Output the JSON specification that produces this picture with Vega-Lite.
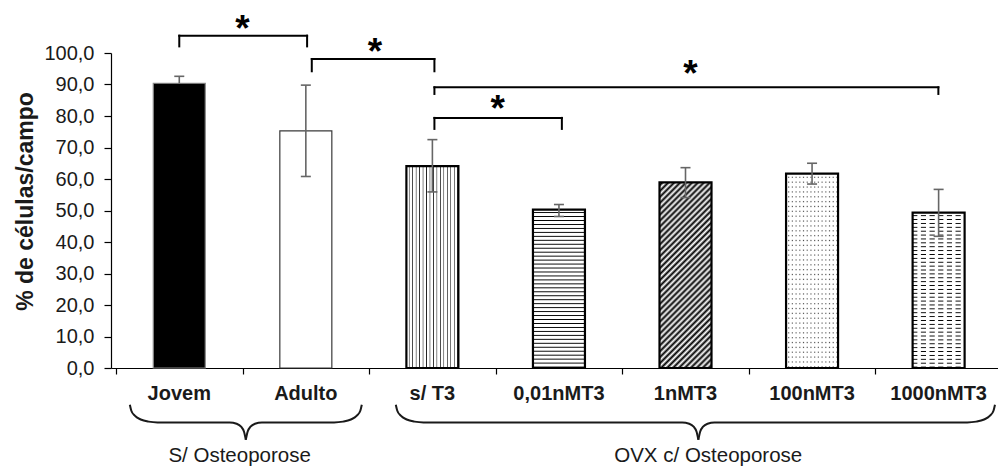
{
  "$schema": "https://vega.github.io/schema/vega-lite/v6.json",
  "width": 887,
  "height": 315,
  "autosize": {"type": "none"},
  "padding": {"left": 111, "top": 53, "right": 0, "bottom": 98},
  "background": "white",
  "config": {"view": {"stroke": null}, "font": "Liberation Sans", "axis": {"grid": false, "labelOverlap": false, "labelBound": false}},
  "resolve": {"axis": {"x": "independent", "y": "independent"}},
  "datasets": {
    "bars": [
      {"i": 1, "cat": "Jovem", "v": 90.4, "lo": 90.4, "hi": 92.6},
      {"i": 2, "cat": "Adulto", "v": 75.3, "lo": 60.8, "hi": 89.8},
      {"i": 3, "cat": "s/ T3", "v": 64.1, "lo": 55.9, "hi": 72.5},
      {"i": 4, "cat": "0,01nMT3", "v": 50.3, "lo": 48.1, "hi": 51.9},
      {"i": 5, "cat": "1nMT3", "v": 58.9, "lo": 54.1, "hi": 63.6},
      {"i": 6, "cat": "100nMT3", "v": 61.7, "lo": 58.4, "hi": 65.0},
      {"i": 7, "cat": "1000nMT3", "v": 49.3, "lo": 41.8, "hi": 56.7}
    ],
    "brackets": [
      {"a": 1.0, "b": 2.01, "top": 105.5, "bot": 102.1},
      {"a": 2.047, "b": 3.016, "top": 98.1, "bot": 94.2},
      {"a": 3.016, "b": 6.998, "top": 89.1, "bot": 87.0},
      {"a": 3.016, "b": 4.023, "top": 79.4, "bot": 75.9}
    ],
    "stars": [
      {"s": "*", "x": 1.5, "y": 110.0},
      {"s": "*", "x": 2.547, "y": 102.6},
      {"s": "*", "x": 5.039, "y": 95.7},
      {"s": "*", "x": 3.516, "y": 84.6}
    ],
    "groups": [
      {"g": "S/ Osteoporose", "x": 1.4766, "y": -29.84},
      {"g": "OVX c/ Osteoporose", "x": 5.1797, "y": -29.84}
    ],
    "braces": [
      {"seg": "A1", "k": 0, "x": 0.6094, "y": -11.65},
      {"seg": "A1", "k": 1, "x": 0.6211, "y": -13.56},
      {"seg": "A1", "k": 2, "x": 0.6484, "y": -15.14},
      {"seg": "A1", "k": 3, "x": 0.6953, "y": -16.35},
      {"seg": "A1", "k": 4, "x": 0.7578, "y": -17.02},
      {"seg": "A1", "k": 5, "x": 0.8281, "y": -17.27},
      {"seg": "A1", "k": 6, "x": 1.3984, "y": -17.27},
      {"seg": "A1", "k": 7, "x": 1.4531, "y": -17.68},
      {"seg": "A1", "k": 8, "x": 1.4883, "y": -18.63},
      {"seg": "A1", "k": 9, "x": 1.5117, "y": -20.22},
      {"seg": "A1", "k": 10, "x": 1.5258, "y": -22.76},
      {"seg": "A2", "k": 0, "x": 1.5258, "y": -22.76},
      {"seg": "A2", "k": 1, "x": 1.5398, "y": -20.22},
      {"seg": "A2", "k": 2, "x": 1.5633, "y": -18.63},
      {"seg": "A2", "k": 3, "x": 1.5984, "y": -17.68},
      {"seg": "A2", "k": 4, "x": 1.6531, "y": -17.27},
      {"seg": "A2", "k": 5, "x": 2.2234, "y": -17.27},
      {"seg": "A2", "k": 6, "x": 2.2938, "y": -17.02},
      {"seg": "A2", "k": 7, "x": 2.3563, "y": -16.35},
      {"seg": "A2", "k": 8, "x": 2.4031, "y": -15.14},
      {"seg": "A2", "k": 9, "x": 2.4305, "y": -13.56},
      {"seg": "A2", "k": 10, "x": 2.4422, "y": -11.65},
      {"seg": "B1", "k": 0, "x": 2.7109, "y": -11.65},
      {"seg": "B1", "k": 1, "x": 2.7227, "y": -13.56},
      {"seg": "B1", "k": 2, "x": 2.75, "y": -15.14},
      {"seg": "B1", "k": 3, "x": 2.7969, "y": -16.35},
      {"seg": "B1", "k": 4, "x": 2.8594, "y": -17.02},
      {"seg": "B1", "k": 5, "x": 2.9297, "y": -17.27},
      {"seg": "B1", "k": 6, "x": 4.9742, "y": -17.27},
      {"seg": "B1", "k": 7, "x": 5.0289, "y": -17.68},
      {"seg": "B1", "k": 8, "x": 5.0641, "y": -18.63},
      {"seg": "B1", "k": 9, "x": 5.0875, "y": -20.22},
      {"seg": "B1", "k": 10, "x": 5.1016, "y": -22.76},
      {"seg": "B2", "k": 0, "x": 5.1016, "y": -22.76},
      {"seg": "B2", "k": 1, "x": 5.1156, "y": -20.22},
      {"seg": "B2", "k": 2, "x": 5.1391, "y": -18.63},
      {"seg": "B2", "k": 3, "x": 5.1742, "y": -17.68},
      {"seg": "B2", "k": 4, "x": 5.2289, "y": -17.27},
      {"seg": "B2", "k": 5, "x": 7.2266, "y": -17.27},
      {"seg": "B2", "k": 6, "x": 7.2969, "y": -17.02},
      {"seg": "B2", "k": 7, "x": 7.3594, "y": -16.35},
      {"seg": "B2", "k": 8, "x": 7.4063, "y": -15.14},
      {"seg": "B2", "k": 9, "x": 7.4336, "y": -13.56},
      {"seg": "B2", "k": 10, "x": 7.4453, "y": -11.65}
    ]
  },
  "layer": [
    {
      "data": {"name": "bars"},
      "transform": [{"filter": "datum.i === 1"}],
      "mark": {"type": "bar", "orient": "vertical", "width": 52, "fill": "#000"},
      "encoding": {
        "x": {"field": "i", "type": "quantitative", "scale": {"domain": [0.5, 7.4297], "nice": false, "zero": false},
          "axis": {"values": [0.5, 1.5, 2.5, 3.5, 4.5, 5.5, 6.5], "labels": false, "ticks": true, "tickSize": 6, "tickColor": "#000", "tickWidth": 1.2, "domainColor": "#000", "domainWidth": 1.2, "grid": false, "title": null}},
        "y": {"field": "v", "type": "quantitative", "scale": {"domain": [0, 100], "nice": false, "zero": false},
          "axis": {"values": [0, 10, 20, 30, 40, 50, 60, 70, 80, 90, 100], "labelExpr": "replace(format(datum.value, '.1f'), '.', ',')", "labelFontSize": 20, "labelColor": "#1a1a1a", "labelPadding": 10, "labelOverlap": false, "tickSize": 7, "tickColor": "#000", "tickWidth": 1.2, "domainColor": "#000", "domainWidth": 1.2, "grid": false,
            "title": "% de células/campo", "titleFontSize": 23, "titleFontWeight": "bold", "titleColor": "#1a1a1a", "titleAngle": 270, "titleX": -86, "titleY": 148, "titleAlign": "center", "titleBaseline": "middle"}}
      }
    },
    {
      "data": {"name": "bars"},
      "transform": [{"filter": "datum.i === 2"}],
      "mark": {"type": "bar", "orient": "vertical", "width": 52, "fill": "#fff"},
      "encoding": {
        "x": {"field": "i", "type": "quantitative", "scale": {"domain": [0.5, 7.4297], "nice": false, "zero": false}, "axis": null},
        "y": {"field": "v", "type": "quantitative", "scale": {"domain": [0, 100], "nice": false, "zero": false}, "axis": null}
      }
    },
    {
      "data": {"name": "bars"},
      "transform": [{"filter": "datum.i === 3"}],
      "mark": {"type": "bar", "orient": "vertical", "width": 52, "fill": {"gradient": "linear", "x1": 0, "y1": 0, "x2": 1, "y2": 0, "stops": [
        {"offset": 0, "color": "#fff"}, {"offset": 0.04, "color": "#fff"}, {"offset": 0.0533, "color": "#222"},
        {"offset": 0.0667, "color": "#fff"}, {"offset": 0.1067, "color": "#fff"}, {"offset": 0.12, "color": "#222"},
        {"offset": 0.1333, "color": "#fff"}, {"offset": 0.1733, "color": "#fff"}, {"offset": 0.1867, "color": "#222"},
        {"offset": 0.2, "color": "#fff"}, {"offset": 0.24, "color": "#fff"}, {"offset": 0.2533, "color": "#222"},
        {"offset": 0.2667, "color": "#fff"}, {"offset": 0.3067, "color": "#fff"}, {"offset": 0.32, "color": "#222"},
        {"offset": 0.3333, "color": "#fff"}, {"offset": 0.3733, "color": "#fff"}, {"offset": 0.3867, "color": "#222"},
        {"offset": 0.4, "color": "#fff"}, {"offset": 0.44, "color": "#fff"}, {"offset": 0.4533, "color": "#222"},
        {"offset": 0.4667, "color": "#fff"}, {"offset": 0.5067, "color": "#fff"}, {"offset": 0.52, "color": "#222"},
        {"offset": 0.5333, "color": "#fff"}, {"offset": 0.5733, "color": "#fff"}, {"offset": 0.5867, "color": "#222"},
        {"offset": 0.6, "color": "#fff"}, {"offset": 0.64, "color": "#fff"}, {"offset": 0.6533, "color": "#222"},
        {"offset": 0.6667, "color": "#fff"}, {"offset": 0.7067, "color": "#fff"}, {"offset": 0.72, "color": "#222"},
        {"offset": 0.7333, "color": "#fff"}, {"offset": 0.7733, "color": "#fff"}, {"offset": 0.7867, "color": "#222"},
        {"offset": 0.8, "color": "#fff"}, {"offset": 0.84, "color": "#fff"}, {"offset": 0.8533, "color": "#222"},
        {"offset": 0.8667, "color": "#fff"}, {"offset": 0.9067, "color": "#fff"}, {"offset": 0.92, "color": "#222"},
        {"offset": 0.9333, "color": "#fff"}, {"offset": 0.9733, "color": "#fff"}, {"offset": 0.9867, "color": "#222"},
        {"offset": 1, "color": "#fff"}
      ]}},
      "encoding": {
        "x": {"field": "i", "type": "quantitative", "scale": {"domain": [0.5, 7.4297], "nice": false, "zero": false}, "axis": null},
        "y": {"field": "v", "type": "quantitative", "scale": {"domain": [0, 100], "nice": false, "zero": false}, "axis": null}
      }
    },
    {
      "data": {"name": "bars"},
      "transform": [{"filter": "datum.i === 4 || datum.i === 6 || datum.i === 7"}],
      "mark": {"type": "bar", "orient": "vertical", "width": 52, "fill": {"gradient": "linear", "x1": 0, "y1": 0, "x2": 0, "y2": 1, "stops": [
        {"offset": 0, "color": "#fff"}, {"offset": 0.013, "color": "#fff"}, {"offset": 0.019, "color": "#000"},
        {"offset": 0.025, "color": "#fff"}, {"offset": 0.038, "color": "#fff"}, {"offset": 0.044, "color": "#000"},
        {"offset": 0.05, "color": "#fff"}, {"offset": 0.063, "color": "#fff"}, {"offset": 0.069, "color": "#000"},
        {"offset": 0.075, "color": "#fff"}, {"offset": 0.088, "color": "#fff"}, {"offset": 0.094, "color": "#000"},
        {"offset": 0.1, "color": "#fff"}, {"offset": 0.113, "color": "#fff"}, {"offset": 0.119, "color": "#000"},
        {"offset": 0.125, "color": "#fff"}, {"offset": 0.138, "color": "#fff"}, {"offset": 0.144, "color": "#000"},
        {"offset": 0.15, "color": "#fff"}, {"offset": 0.163, "color": "#fff"}, {"offset": 0.169, "color": "#000"},
        {"offset": 0.175, "color": "#fff"}, {"offset": 0.188, "color": "#fff"}, {"offset": 0.194, "color": "#000"},
        {"offset": 0.2, "color": "#fff"}, {"offset": 0.213, "color": "#fff"}, {"offset": 0.219, "color": "#000"},
        {"offset": 0.225, "color": "#fff"}, {"offset": 0.238, "color": "#fff"}, {"offset": 0.244, "color": "#000"},
        {"offset": 0.25, "color": "#fff"}, {"offset": 0.263, "color": "#fff"}, {"offset": 0.269, "color": "#000"},
        {"offset": 0.275, "color": "#fff"}, {"offset": 0.288, "color": "#fff"}, {"offset": 0.294, "color": "#000"},
        {"offset": 0.3, "color": "#fff"}, {"offset": 0.313, "color": "#fff"}, {"offset": 0.319, "color": "#000"},
        {"offset": 0.325, "color": "#fff"}, {"offset": 0.338, "color": "#fff"}, {"offset": 0.344, "color": "#000"},
        {"offset": 0.35, "color": "#fff"}, {"offset": 0.363, "color": "#fff"}, {"offset": 0.369, "color": "#000"},
        {"offset": 0.375, "color": "#fff"}, {"offset": 0.388, "color": "#fff"}, {"offset": 0.394, "color": "#000"},
        {"offset": 0.4, "color": "#fff"}, {"offset": 0.413, "color": "#fff"}, {"offset": 0.419, "color": "#000"},
        {"offset": 0.425, "color": "#fff"}, {"offset": 0.438, "color": "#fff"}, {"offset": 0.444, "color": "#000"},
        {"offset": 0.45, "color": "#fff"}, {"offset": 0.463, "color": "#fff"}, {"offset": 0.469, "color": "#000"},
        {"offset": 0.475, "color": "#fff"}, {"offset": 0.488, "color": "#fff"}, {"offset": 0.494, "color": "#000"},
        {"offset": 0.5, "color": "#fff"}, {"offset": 0.513, "color": "#fff"}, {"offset": 0.519, "color": "#000"},
        {"offset": 0.525, "color": "#fff"}, {"offset": 0.538, "color": "#fff"}, {"offset": 0.544, "color": "#000"},
        {"offset": 0.55, "color": "#fff"}, {"offset": 0.563, "color": "#fff"}, {"offset": 0.569, "color": "#000"},
        {"offset": 0.575, "color": "#fff"}, {"offset": 0.588, "color": "#fff"}, {"offset": 0.594, "color": "#000"},
        {"offset": 0.6, "color": "#fff"}, {"offset": 0.613, "color": "#fff"}, {"offset": 0.619, "color": "#000"},
        {"offset": 0.625, "color": "#fff"}, {"offset": 0.638, "color": "#fff"}, {"offset": 0.644, "color": "#000"},
        {"offset": 0.65, "color": "#fff"}, {"offset": 0.663, "color": "#fff"}, {"offset": 0.669, "color": "#000"},
        {"offset": 0.675, "color": "#fff"}, {"offset": 0.688, "color": "#fff"}, {"offset": 0.694, "color": "#000"},
        {"offset": 0.7, "color": "#fff"}, {"offset": 0.713, "color": "#fff"}, {"offset": 0.719, "color": "#000"},
        {"offset": 0.725, "color": "#fff"}, {"offset": 0.738, "color": "#fff"}, {"offset": 0.744, "color": "#000"},
        {"offset": 0.75, "color": "#fff"}, {"offset": 0.763, "color": "#fff"}, {"offset": 0.769, "color": "#000"},
        {"offset": 0.775, "color": "#fff"}, {"offset": 0.788, "color": "#fff"}, {"offset": 0.794, "color": "#000"},
        {"offset": 0.8, "color": "#fff"}, {"offset": 0.813, "color": "#fff"}, {"offset": 0.819, "color": "#000"},
        {"offset": 0.825, "color": "#fff"}, {"offset": 0.838, "color": "#fff"}, {"offset": 0.844, "color": "#000"},
        {"offset": 0.85, "color": "#fff"}, {"offset": 0.863, "color": "#fff"}, {"offset": 0.869, "color": "#000"},
        {"offset": 0.875, "color": "#fff"}, {"offset": 0.888, "color": "#fff"}, {"offset": 0.894, "color": "#000"},
        {"offset": 0.9, "color": "#fff"}, {"offset": 0.913, "color": "#fff"}, {"offset": 0.919, "color": "#000"},
        {"offset": 0.925, "color": "#fff"}, {"offset": 0.938, "color": "#fff"}, {"offset": 0.944, "color": "#000"},
        {"offset": 0.95, "color": "#fff"}, {"offset": 0.963, "color": "#fff"}, {"offset": 0.969, "color": "#000"},
        {"offset": 0.975, "color": "#fff"}, {"offset": 0.988, "color": "#fff"}, {"offset": 0.994, "color": "#000"},
        {"offset": 1, "color": "#fff"}
      ]}},
      "encoding": {
        "x": {"field": "i", "type": "quantitative", "scale": {"domain": [0.5, 7.4297], "nice": false, "zero": false}, "axis": null},
        "y": {"field": "v", "type": "quantitative", "scale": {"domain": [0, 100], "nice": false, "zero": false}, "axis": null},
        "fillOpacity": {"condition": {"test": "datum.i === 6", "value": 0.7}, "value": 1}
      }
    },
    {
      "data": {"name": "bars"},
      "transform": [{"filter": "datum.i === 5"}],
      "mark": {"type": "bar", "orient": "vertical", "width": 52, "fill": {"gradient": "linear", "x1": 0, "y1": 0, "x2": 0.3327, "y2": 1.187, "stops": [
        {"offset": 0, "color": "#fff"}, {"offset": 0.0125, "color": "#000"}, {"offset": 0.025, "color": "#fff"}, {"offset": 0.0375, "color": "#000"},
        {"offset": 0.05, "color": "#fff"}, {"offset": 0.0625, "color": "#000"}, {"offset": 0.075, "color": "#fff"}, {"offset": 0.0875, "color": "#000"},
        {"offset": 0.1, "color": "#fff"}, {"offset": 0.1125, "color": "#000"}, {"offset": 0.125, "color": "#fff"}, {"offset": 0.1375, "color": "#000"},
        {"offset": 0.15, "color": "#fff"}, {"offset": 0.1625, "color": "#000"}, {"offset": 0.175, "color": "#fff"}, {"offset": 0.1875, "color": "#000"},
        {"offset": 0.2, "color": "#fff"}, {"offset": 0.2125, "color": "#000"}, {"offset": 0.225, "color": "#fff"}, {"offset": 0.2375, "color": "#000"},
        {"offset": 0.25, "color": "#fff"}, {"offset": 0.2625, "color": "#000"}, {"offset": 0.275, "color": "#fff"}, {"offset": 0.2875, "color": "#000"},
        {"offset": 0.3, "color": "#fff"}, {"offset": 0.3125, "color": "#000"}, {"offset": 0.325, "color": "#fff"}, {"offset": 0.3375, "color": "#000"},
        {"offset": 0.35, "color": "#fff"}, {"offset": 0.3625, "color": "#000"}, {"offset": 0.375, "color": "#fff"}, {"offset": 0.3875, "color": "#000"},
        {"offset": 0.4, "color": "#fff"}, {"offset": 0.4125, "color": "#000"}, {"offset": 0.425, "color": "#fff"}, {"offset": 0.4375, "color": "#000"},
        {"offset": 0.45, "color": "#fff"}, {"offset": 0.4625, "color": "#000"}, {"offset": 0.475, "color": "#fff"}, {"offset": 0.4875, "color": "#000"},
        {"offset": 0.5, "color": "#fff"}, {"offset": 0.5125, "color": "#000"}, {"offset": 0.525, "color": "#fff"}, {"offset": 0.5375, "color": "#000"},
        {"offset": 0.55, "color": "#fff"}, {"offset": 0.5625, "color": "#000"}, {"offset": 0.575, "color": "#fff"}, {"offset": 0.5875, "color": "#000"},
        {"offset": 0.6, "color": "#fff"}, {"offset": 0.6125, "color": "#000"}, {"offset": 0.625, "color": "#fff"}, {"offset": 0.6375, "color": "#000"},
        {"offset": 0.65, "color": "#fff"}, {"offset": 0.6625, "color": "#000"}, {"offset": 0.675, "color": "#fff"}, {"offset": 0.6875, "color": "#000"},
        {"offset": 0.7, "color": "#fff"}, {"offset": 0.7125, "color": "#000"}, {"offset": 0.725, "color": "#fff"}, {"offset": 0.7375, "color": "#000"},
        {"offset": 0.75, "color": "#fff"}, {"offset": 0.7625, "color": "#000"}, {"offset": 0.775, "color": "#fff"}, {"offset": 0.7875, "color": "#000"},
        {"offset": 0.8, "color": "#fff"}, {"offset": 0.8125, "color": "#000"}, {"offset": 0.825, "color": "#fff"}, {"offset": 0.8375, "color": "#000"},
        {"offset": 0.85, "color": "#fff"}, {"offset": 0.8625, "color": "#000"}, {"offset": 0.875, "color": "#fff"}, {"offset": 0.8875, "color": "#000"},
        {"offset": 0.9, "color": "#fff"}, {"offset": 0.9125, "color": "#000"}, {"offset": 0.925, "color": "#fff"}, {"offset": 0.9375, "color": "#000"},
        {"offset": 0.95, "color": "#fff"}, {"offset": 0.9625, "color": "#000"}, {"offset": 0.975, "color": "#fff"}, {"offset": 0.9875, "color": "#000"},
        {"offset": 1, "color": "#fff"}
      ]}},
      "encoding": {
        "x": {"field": "i", "type": "quantitative", "scale": {"domain": [0.5, 7.4297], "nice": false, "zero": false}, "axis": null},
        "y": {"field": "v", "type": "quantitative", "scale": {"domain": [0, 100], "nice": false, "zero": false}, "axis": null}
      }
    },
    {
      "data": {"name": "bars"},
      "transform": [{"filter": "datum.i === 6"}],
      "mark": {"type": "bar", "orient": "vertical", "width": 52, "fill": {"gradient": "linear", "x1": 0, "y1": 0, "x2": 1, "y2": 0, "stops": [
        {"offset": 0, "color": "#fff"}, {"offset": 0.0286, "color": "#fff"}, {"offset": 0.05, "color": "rgba(255,255,255,0)"},
        {"offset": 0.0714, "color": "#fff"}, {"offset": 0.1, "color": "#fff"}, {"offset": 0.1214, "color": "rgba(255,255,255,0)"},
        {"offset": 0.1429, "color": "#fff"}, {"offset": 0.1714, "color": "#fff"}, {"offset": 0.1929, "color": "rgba(255,255,255,0)"},
        {"offset": 0.2143, "color": "#fff"}, {"offset": 0.2429, "color": "#fff"}, {"offset": 0.2643, "color": "rgba(255,255,255,0)"},
        {"offset": 0.2857, "color": "#fff"}, {"offset": 0.3143, "color": "#fff"}, {"offset": 0.3357, "color": "rgba(255,255,255,0)"},
        {"offset": 0.3571, "color": "#fff"}, {"offset": 0.3857, "color": "#fff"}, {"offset": 0.4071, "color": "rgba(255,255,255,0)"},
        {"offset": 0.4286, "color": "#fff"}, {"offset": 0.4571, "color": "#fff"}, {"offset": 0.4786, "color": "rgba(255,255,255,0)"},
        {"offset": 0.5, "color": "#fff"}, {"offset": 0.5286, "color": "#fff"}, {"offset": 0.55, "color": "rgba(255,255,255,0)"},
        {"offset": 0.5714, "color": "#fff"}, {"offset": 0.6, "color": "#fff"}, {"offset": 0.6214, "color": "rgba(255,255,255,0)"},
        {"offset": 0.6429, "color": "#fff"}, {"offset": 0.6714, "color": "#fff"}, {"offset": 0.6929, "color": "rgba(255,255,255,0)"},
        {"offset": 0.7143, "color": "#fff"}, {"offset": 0.7429, "color": "#fff"}, {"offset": 0.7643, "color": "rgba(255,255,255,0)"},
        {"offset": 0.7857, "color": "#fff"}, {"offset": 0.8143, "color": "#fff"}, {"offset": 0.8357, "color": "rgba(255,255,255,0)"},
        {"offset": 0.8571, "color": "#fff"}, {"offset": 0.8857, "color": "#fff"}, {"offset": 0.9071, "color": "rgba(255,255,255,0)"},
        {"offset": 0.9286, "color": "#fff"}, {"offset": 0.9571, "color": "#fff"}, {"offset": 0.9786, "color": "rgba(255,255,255,0)"},
        {"offset": 1, "color": "#fff"}
      ]}},
      "encoding": {
        "x": {"field": "i", "type": "quantitative", "scale": {"domain": [0.5, 7.4297], "nice": false, "zero": false}, "axis": null},
        "y": {"field": "v", "type": "quantitative", "scale": {"domain": [0, 100], "nice": false, "zero": false}, "axis": null}
      }
    },
    {
      "data": {"name": "bars"},
      "transform": [{"filter": "datum.i === 7"}],
      "mark": {"type": "bar", "orient": "vertical", "width": 52, "fill": {"gradient": "linear", "x1": 0, "y1": 0, "x2": 1, "y2": 0, "stops": [
        {"offset": 0, "color": "rgba(255,255,255,0)"}, {"offset": 0.0833, "color": "rgba(255,255,255,0)"}, {"offset": 0.1, "color": "#fff"}, {"offset": 0.15, "color": "#fff"},
        {"offset": 0.1667, "color": "rgba(255,255,255,0)"}, {"offset": 0.25, "color": "rgba(255,255,255,0)"}, {"offset": 0.2667, "color": "#fff"}, {"offset": 0.3167, "color": "#fff"},
        {"offset": 0.3333, "color": "rgba(255,255,255,0)"}, {"offset": 0.4167, "color": "rgba(255,255,255,0)"}, {"offset": 0.4333, "color": "#fff"}, {"offset": 0.4833, "color": "#fff"},
        {"offset": 0.5, "color": "rgba(255,255,255,0)"}, {"offset": 0.5833, "color": "rgba(255,255,255,0)"}, {"offset": 0.6, "color": "#fff"}, {"offset": 0.65, "color": "#fff"},
        {"offset": 0.6667, "color": "rgba(255,255,255,0)"}, {"offset": 0.75, "color": "rgba(255,255,255,0)"}, {"offset": 0.7667, "color": "#fff"}, {"offset": 0.8167, "color": "#fff"},
        {"offset": 0.8333, "color": "rgba(255,255,255,0)"}, {"offset": 0.9167, "color": "rgba(255,255,255,0)"}, {"offset": 0.9333, "color": "#fff"}, {"offset": 0.9833, "color": "#fff"},
        {"offset": 1, "color": "rgba(255,255,255,0)"}
      ]}},
      "encoding": {
        "x": {"field": "i", "type": "quantitative", "scale": {"domain": [0.5, 7.4297], "nice": false, "zero": false}, "axis": null},
        "y": {"field": "v", "type": "quantitative", "scale": {"domain": [0, 100], "nice": false, "zero": false}, "axis": null}
      }
    },
    {
      "data": {"name": "bars"},
      "mark": {"type": "bar", "orient": "vertical", "width": 52, "fill": "#fff", "fillOpacity": 0},
      "encoding": {
        "x": {"field": "i", "type": "quantitative", "scale": {"domain": [0.5, 7.4297], "nice": false, "zero": false}, "axis": null},
        "y": {"field": "v", "type": "quantitative", "scale": {"domain": [0, 100], "nice": false, "zero": false}, "axis": null},
        "stroke": {"condition": [{"test": "datum.i === 1", "value": "#8a8a8a"}, {"test": "datum.i === 2", "value": "#3a3a3a"}], "value": "#000"},
        "strokeWidth": {"condition": {"test": "datum.i <= 2", "value": 1.2}, "value": 2.2}
      }
    },
    {
      "data": {"name": "bars"},
      "mark": {"type": "rule", "color": "#666", "strokeWidth": 1.6},
      "encoding": {
        "x": {"field": "i", "type": "quantitative", "scale": {"domain": [0.5, 7.4297], "nice": false, "zero": false}, "axis": null},
        "y": {"field": "lo", "type": "quantitative", "scale": {"domain": [0, 100], "nice": false, "zero": false}, "axis": null},
        "y2": {"field": "hi"}
      }
    },
    {
      "data": {"name": "bars"},
      "mark": {"type": "tick", "orient": "horizontal", "color": "#666", "size": 10, "thickness": 1.6, "opacity": 1},
      "encoding": {
        "x": {"field": "i", "type": "quantitative", "scale": {"domain": [0.5, 7.4297], "nice": false, "zero": false}, "axis": null},
        "y": {"field": "hi", "type": "quantitative", "scale": {"domain": [0, 100], "nice": false, "zero": false}, "axis": null}
      }
    },
    {
      "data": {"name": "bars"},
      "transform": [{"filter": "datum.i !== 1"}],
      "mark": {"type": "tick", "orient": "horizontal", "color": "#666", "size": 10, "thickness": 1.6, "opacity": 1},
      "encoding": {
        "x": {"field": "i", "type": "quantitative", "scale": {"domain": [0.5, 7.4297], "nice": false, "zero": false}, "axis": null},
        "y": {"field": "lo", "type": "quantitative", "scale": {"domain": [0, 100], "nice": false, "zero": false}, "axis": null}
      }
    },
    {
      "data": {"name": "bars"},
      "mark": {"type": "text", "fontSize": 20, "fontWeight": "bold", "color": "#1a1a1a", "align": "center", "baseline": "alphabetic", "dy": 32},
      "encoding": {
        "x": {"field": "i", "type": "quantitative", "scale": {"domain": [0.5, 7.4297], "nice": false, "zero": false}, "axis": null},
        "y": {"datum": 0, "type": "quantitative", "scale": {"domain": [0, 100], "nice": false, "zero": false}, "axis": null},
        "text": {"field": "cat"}
      }
    },
    {
      "data": {"name": "brackets"},
      "mark": {"type": "rule", "color": "#000", "strokeWidth": 2, "strokeCap": "square"},
      "encoding": {
        "x": {"field": "a", "type": "quantitative", "scale": {"domain": [0.5, 7.4297], "nice": false, "zero": false}, "axis": null},
        "x2": {"field": "b"},
        "y": {"field": "top", "type": "quantitative", "scale": {"domain": [0, 100], "nice": false, "zero": false}, "axis": null}
      }
    },
    {
      "data": {"name": "brackets"},
      "mark": {"type": "rule", "color": "#000", "strokeWidth": 2, "strokeCap": "square"},
      "encoding": {
        "x": {"field": "a", "type": "quantitative", "scale": {"domain": [0.5, 7.4297], "nice": false, "zero": false}, "axis": null},
        "y": {"field": "bot", "type": "quantitative", "scale": {"domain": [0, 100], "nice": false, "zero": false}, "axis": null},
        "y2": {"field": "top"}
      }
    },
    {
      "data": {"name": "brackets"},
      "mark": {"type": "rule", "color": "#000", "strokeWidth": 2, "strokeCap": "square"},
      "encoding": {
        "x": {"field": "b", "type": "quantitative", "scale": {"domain": [0.5, 7.4297], "nice": false, "zero": false}, "axis": null},
        "y": {"field": "bot", "type": "quantitative", "scale": {"domain": [0, 100], "nice": false, "zero": false}, "axis": null},
        "y2": {"field": "top"}
      }
    },
    {
      "data": {"name": "stars"},
      "mark": {"type": "text", "fontSize": 37, "fontWeight": "bold", "color": "#000", "align": "center", "baseline": "alphabetic", "dy": 19},
      "encoding": {
        "x": {"field": "x", "type": "quantitative", "scale": {"domain": [0.5, 7.4297], "nice": false, "zero": false}, "axis": null},
        "y": {"field": "y", "type": "quantitative", "scale": {"domain": [0, 100], "nice": false, "zero": false}, "axis": null},
        "text": {"field": "s"}
      }
    },
    {
      "data": {"name": "braces"},
      "mark": {"type": "line", "color": "#1a1a1a", "strokeWidth": 2, "interpolate": "monotone"},
      "encoding": {
        "x": {"field": "x", "type": "quantitative", "scale": {"domain": [0.5, 7.4297], "nice": false, "zero": false}, "axis": null},
        "y": {"field": "y", "type": "quantitative", "scale": {"domain": [0, 100], "nice": false, "zero": false}, "axis": null},
        "detail": {"field": "seg"},
        "order": {"field": "k", "type": "quantitative"}
      }
    },
    {
      "data": {"name": "groups"},
      "mark": {"type": "text", "fontSize": 20.5, "color": "#1a1a1a", "align": "center", "baseline": "alphabetic"},
      "encoding": {
        "x": {"field": "x", "type": "quantitative", "scale": {"domain": [0.5, 7.4297], "nice": false, "zero": false}, "axis": null},
        "y": {"field": "y", "type": "quantitative", "scale": {"domain": [0, 100], "nice": false, "zero": false}, "axis": null},
        "text": {"field": "g"}
      }
    }
  ]
}
